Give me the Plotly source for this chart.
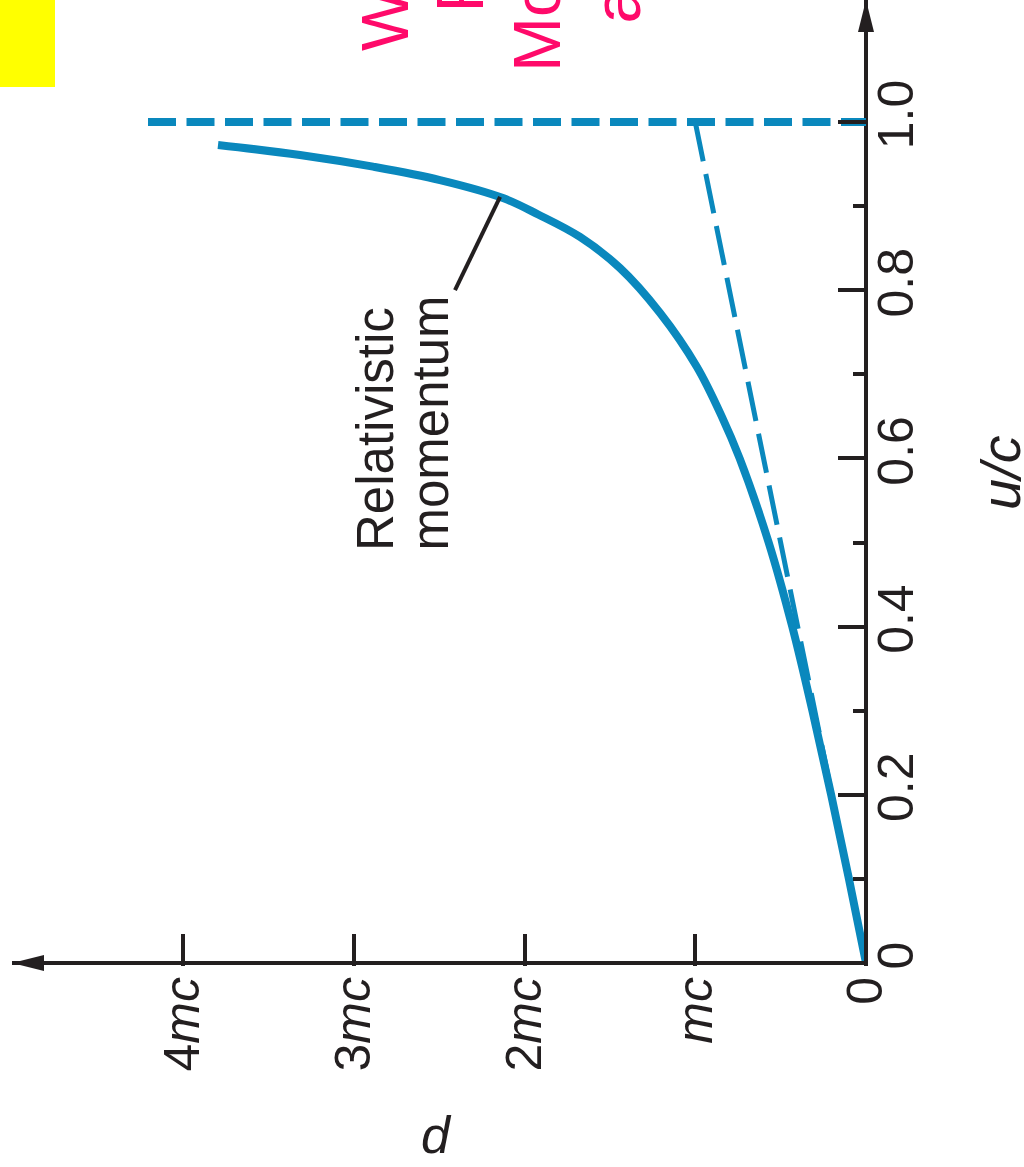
import plotly.graph_objects as go

# ---------------- data ----------------
# relativistic momentum curve: u/c and p (in units of mc)
u_curve = [0.0, 0.100, 0.200, 0.300, 0.400, 0.500, 0.600, 0.650, 0.7087,
           0.7729, 0.8264, 0.8633, 0.8900, 0.9096, 0.9310, 0.9469,
           0.9608, 0.9727]
p_curve = [0.0, 0.100, 0.204, 0.314, 0.432, 0.570, 0.740, 0.845, 0.990,
           1.206, 1.441, 1.675, 1.920, 2.126, 2.495, 2.887,
           3.315, 3.795]

# classical (Newtonian) momentum p = m u  (dashed)
u_classical = [1.0, 0.0]
p_classical = [1.0, 0.0]

# limit u = c (thick dashed)
u_limit = [1.0, 1.0]
p_limit = [4.205, 0.0]

# leader line for the "Relativistic momentum" label
u_leader = [0.800, 0.911]
p_leader = [2.407, 2.143]

u_tickvals = [0, 0.2, 0.4, 0.6, 0.8, 1.0]
u_ticktext = ["0", "0.2", "0.4", "0.6", "0.8", "1.0"]
u_minor = [0.1, 0.3, 0.5, 0.7, 0.9]
p_tickvals = [0, 1, 2, 3, 4]
p_ticktext = ["0", "<i>mc</i>", "2<i>mc</i>", "3<i>mc</i>", "4<i>mc</i>"]

pink_lines = ["What", "Relativistic", "Momentum", "approaches"]

# ---------------- styling / layout ----------------
W, H = 1024, 1167
L_EDGE, R_EDGE, T_EDGE, B_EDGE = 12, 868, 0, 966
P0_PX, K_P = 866, 170.75     # pixel of p=0, px per mc
U0_PX, K_U = 963, 841.0      # pixel of u=0, px per unit u/c

p_range = [(P0_PX - L_EDGE) / K_P, (P0_PX - R_EDGE) / K_P]   # reversed axis
u_range = [(U0_PX - B_EDGE) / K_U, (U0_PX - T_EDGE) / K_U]

BLUE = "#0a88bd"
DARK = "#231f20"
PINK = "#ff0a6a"
FONT = "Liberation Sans, Arial, Helvetica, sans-serif"


def px_x(px):
    return (px - L_EDGE) / (R_EDGE - L_EDGE)


def px_y(py):
    return (B_EDGE - py) / (B_EDGE - T_EDGE)


fig = go.Figure()

fig.add_trace(go.Scatter(
    x=p_classical, y=u_classical, mode="lines",
    line=dict(color=BLUE, width=5, dash="40px,13px"),
    hoverinfo="skip", showlegend=False))

fig.add_trace(go.Scatter(
    x=p_limit, y=u_limit, mode="lines",
    line=dict(color=BLUE, width=8, dash="28px,10.5px"),
    hoverinfo="skip", showlegend=False))

fig.add_trace(go.Scatter(
    x=p_curve, y=u_curve, mode="lines",
    line=dict(color=BLUE, width=8, shape="spline", smoothing=1.0),
    hoverinfo="skip", showlegend=False))

fig.add_trace(go.Scatter(
    x=p_leader, y=u_leader, mode="lines",
    line=dict(color=DARK, width=4),
    hoverinfo="skip", showlegend=False))

tickfont = dict(family=FONT, size=50, color=DARK)

fig.update_xaxes(
    range=p_range, showgrid=False, showline=False,
    zeroline=True, zerolinecolor=DARK, zerolinewidth=4,
    tickmode="array", tickvals=p_tickvals, ticktext=p_ticktext,
    ticks="inside", ticklen=32, tickwidth=4, tickcolor=DARK,
    tickangle=-90, tickfont=tickfont, ticklabelstandoff=0,
    fixedrange=True)

fig.update_yaxes(
    range=u_range, side="right", showgrid=False, showline=False,
    zeroline=True, zerolinecolor=DARK, zerolinewidth=4,
    tickmode="array", tickvals=u_tickvals, ticktext=u_ticktext,
    ticks="inside", ticklen=30, tickwidth=4, tickcolor=DARK,
    tickangle=-90, tickfont=tickfont, ticklabelstandoff=-6,
    minor=dict(tickmode="array", tickvals=u_minor, ticks="inside",
               ticklen=15, tickwidth=4, tickcolor=DARK, showgrid=False),
    fixedrange=True)

shapes = [
    # axis arrowheads
    dict(type="path", xref="paper", yref="paper",
         xsizemode="pixel", ysizemode="pixel",
         xanchor=px_x(P0_PX), yanchor=px_y(0),
         path="M -8,-32 L 0,0 L 8,-32 Z",
         fillcolor=DARK, line=dict(width=0), layer="above"),
    dict(type="path", xref="paper", yref="paper",
         xsizemode="pixel", ysizemode="pixel",
         xanchor=px_x(12), yanchor=px_y(U0_PX),
         path="M 0,0 L 32,8 L 32,-8 Z",
         fillcolor=DARK, line=dict(width=0), layer="above"),
    # yellow block top-left
    dict(type="rect", xref="paper", yref="paper",
         x0=px_x(0), x1=px_x(55), y0=px_y(87), y1=px_y(0),
         fillcolor="#ffff00", line=dict(width=0), layer="above"),
]

annotations = []
# pink title text (cut off at the top edge, as in the reference)
pink_centers = [385, 460, 537, 617]
pink_starts = [53, 14, 74, 26]
for txt, cx, sy in zip(pink_lines, pink_centers, pink_starts):
    annotations.append(dict(
        text=txt, xref="paper", yref="paper", x=px_x(cx), y=px_y(sy),
        xanchor="center", yanchor="bottom", textangle=-90, showarrow=False,
        font=dict(family=FONT, size=66, color=PINK)))

# curve label
for txt, cx in zip(["Relativistic", "momentum"], [375, 430]):
    annotations.append(dict(
        text=txt, xref="paper", yref="paper", x=px_x(cx), y=px_y(553),
        xanchor="center", yanchor="bottom", textangle=-90, showarrow=False,
        font=dict(family=FONT, size=51, color=DARK)))

# axis titles
annotations.append(dict(
    text="<i>u/c</i>", xref="paper", yref="paper", x=px_x(1000), y=px_y(473),
    xanchor="center", yanchor="middle", textangle=-90, showarrow=False,
    font=dict(family=FONT, size=56, color=DARK)))
annotations.append(dict(
    text="<i>p</i>", xref="paper", yref="paper", x=px_x(437), y=px_y(1144),
    xanchor="center", yanchor="middle", textangle=180, showarrow=False,
    font=dict(family=FONT, size=52, color=DARK)))

fig.update_layout(
    width=W, height=H,
    margin=dict(l=L_EDGE, r=W - R_EDGE, t=T_EDGE, b=H - B_EDGE, pad=0),
    paper_bgcolor="white", plot_bgcolor="white",
    shapes=shapes, annotations=annotations,
    showlegend=False)

fig.write_html("out.html", config={"displayModeBar": False},
               post_script="document.body.style.margin='0px';")
